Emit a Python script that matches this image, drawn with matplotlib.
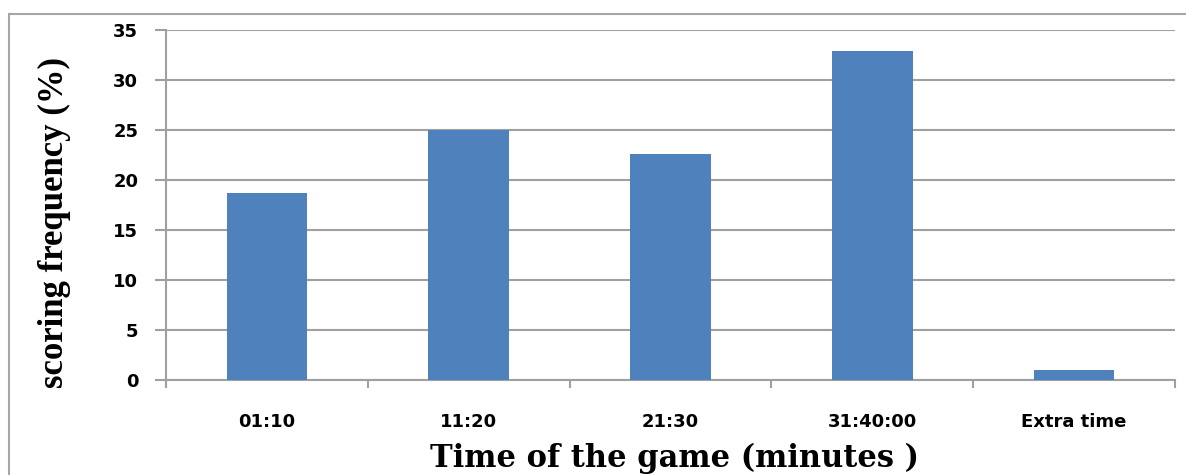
import numpy as np
import matplotlib.pyplot as plt
from matplotlib.patches import Rectangle

periods = ['01:10', '11:20', '21:30', '31:40:00', 'Extra time']
freq = [18.7, 25.0, 22.6, 32.9, 1.0]

fig = plt.figure(figsize=(11.86, 4.75), dpi=100)
ax = fig.add_axes([166 / 1186, 95 / 475, 1009 / 1186, 350 / 475])

# outer chart frame (runs off the right and bottom edges)
fig.patches.append(Rectangle((9 / 1186, -0.1), 1.2, 1.1 - 14 / 475,
                             transform=fig.transFigure, fill=False,
                             edgecolor='#a6a6a6', linewidth=1.5))

x = np.arange(len(periods))
ax.bar(x, freq, width=0.4, color='#4F81BD', zorder=3)

ax.set_xlim(-0.5, len(periods) - 0.5)
ax.set_ylim(0, 35)
ax.set_yticks(np.arange(0, 36, 5))
ax.yaxis.grid(True, color='#a0a0a0', linewidth=1.5)
ax.set_axisbelow(True)

for s in ['top', 'right']:
    ax.spines[s].set_visible(False)
for s in ['left', 'bottom']:
    ax.spines[s].set_color('#a0a0a0')
    ax.spines[s].set_linewidth(1.5)

ax.set_xticks(x)
ax.set_xticklabels(periods, fontsize=13, fontweight='bold')
ax.set_xticks(np.arange(-0.5, len(periods)), minor=True)
ax.tick_params(axis='x', which='major', length=0, pad=24)
ax.tick_params(axis='x', which='minor', length=6, width=1.5, color='#a0a0a0')
ax.tick_params(axis='y', length=8, width=1.5, color='#a0a0a0', pad=12)
for lab in ax.get_yticklabels():
    lab.set_fontsize(13)
    lab.set_fontweight('bold')

fig.text(675 / 1186, 1 - 458 / 475, 'Time of the game (minutes )',
         ha='center', va='center', fontsize=22, fontweight='bold',
         family='DejaVu Serif')
fig.text(54 / 1186, 1 - 223 / 475, 'scoring frequency (%)',
         ha='center', va='center', rotation=90, fontsize=25,
         family='Liberation Serif', fontweight='bold')

fig.savefig('out.png', dpi=100)
